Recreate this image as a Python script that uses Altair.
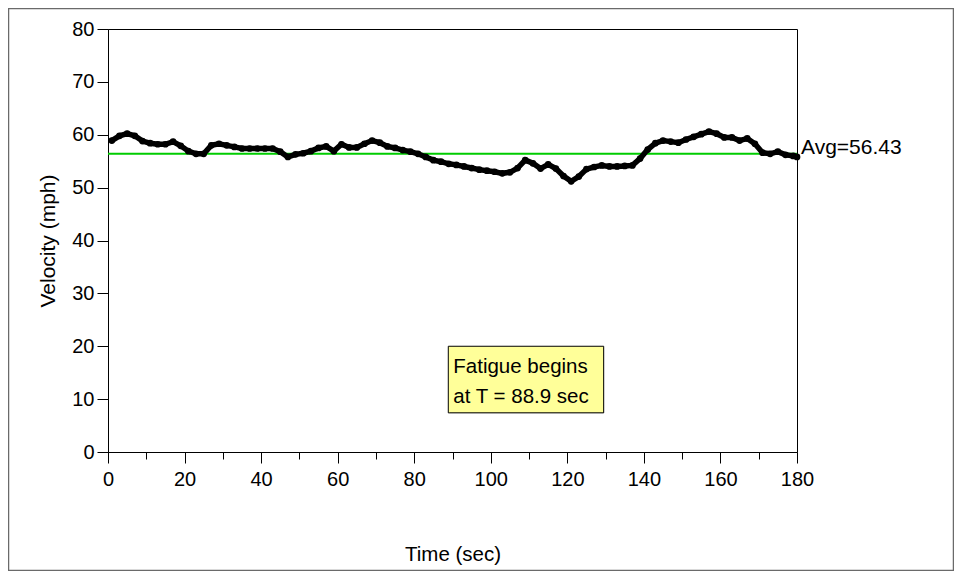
import altair as alt
import pandas as pd

# ---- data ----
times = [1, 3, 5, 7, 9, 11, 13, 15, 17, 19, 21, 23, 25, 27, 29, 31, 33, 35, 37, 39,
         41, 43, 45, 47, 49, 51, 53, 55, 57, 59, 61, 63, 65, 67, 69, 71, 73, 75, 77, 79,
         81, 83, 85, 87, 89, 91, 93, 95, 97, 99, 101, 103, 105, 107, 109, 111, 113, 115, 117, 119,
         121, 123, 125, 127, 129, 131, 133, 135, 137, 139, 141, 143, 145, 147, 149, 151, 153, 155, 157, 159,
         161, 163, 165, 167, 169, 171, 173, 175, 177, 179, 180]
velocity = [58.9, 59.8, 60.2, 59.8, 58.8, 58.4, 58.2, 58.2, 58.7, 57.9, 56.9, 56.4, 56.4, 58.0, 58.3, 58.0, 57.7, 57.4, 57.4, 57.4,
            57.4, 57.4, 56.8, 55.8, 56.3, 56.5, 56.9, 57.5, 57.8, 56.9, 58.2, 57.6, 57.6, 58.3, 58.9, 58.5, 57.8, 57.5, 57.1, 56.8,
            56.4, 55.8, 55.2, 54.9, 54.5, 54.3, 54.0, 53.7, 53.4, 53.2, 53.0, 52.7, 52.9, 53.7, 55.2, 54.6, 53.6, 54.4, 53.6, 52.2,
            51.2, 52.1, 53.5, 53.9, 54.2, 54.0, 54.0, 54.1, 54.2, 55.5, 57.2, 58.4, 58.9, 58.7, 58.5, 59.1, 59.6, 60.1, 60.6, 60.2,
            59.5, 59.5, 58.9, 59.3, 58.3, 56.6, 56.4, 56.8, 56.2, 56.0, 55.8]
avg_value = 56.43
x_major = [0, 20, 40, 60, 80, 100, 120, 140, 160, 180]
x_minor = [10, 30, 50, 70, 90, 110, 130, 150, 170]
y_ticks = [0, 10, 20, 30, 40, 50, 60, 70, 80]
note_lines = ["Fatigue begins", "at T = 88.9 sec"]
fatigue_t = 88.9
box_t_end = 129.5
box_v_low = 7.4
box_v_high = 20.0

FONT = "Liberation Sans"

df = pd.DataFrame({"t": times, "v": velocity})
avg_df = pd.DataFrame({"t": [180], "v": [avg_value], "label": [f"Avg={avg_value}"]})
box_df = pd.DataFrame({"t0": [fatigue_t], "t1": [box_t_end], "v0": [box_v_low], "v1": [box_v_high]})
note_df = pd.DataFrame({"t": [fatigue_t], "v": [box_v_high], "label": [note_lines]})
one_df = pd.DataFrame({"k": [0]})

xs = alt.Scale(domain=[0, 180], nice=False, zero=False)
ys = alt.Scale(domain=[0, 80], nice=False)

x_major_axis = alt.Axis(values=x_major, tickSize=11, tickColor="black", domainColor="black",
                        labelPadding=6, labelFontSize=20, labelFont=FONT, labelColor="black",
                        labelFlush=False, grid=False, orient="bottom",
                        title="Time (sec)", titleFont=FONT, titleFontSize=20.5, titleFontWeight="normal",
                        titleColor="black", titleY=108, titleBaseline="alphabetic")
x_minor_axis = alt.Axis(values=x_minor, tickSize=7, tickColor="black", domain=False,
                        labels=False, grid=False, orient="bottom", title="")
y_axis = alt.Axis(values=y_ticks, tickSize=11, tickColor="black", domainColor="black",
                  labelPadding=3, labelFontSize=20, labelFont=FONT, labelColor="black",
                  labelFlush=False, grid=False,
                  title="Velocity (mph)", titleFont=FONT, titleFontSize=21, titleFontWeight="normal",
                  titleColor="black", titleX=-60, titleBaseline="middle")


def Y(field):
    return alt.Y(field, scale=ys, axis=y_axis)


frame = alt.Chart(one_df).mark_rect(fillOpacity=0, stroke="#6a6a6a", strokeWidth=1.5).encode(
    x=alt.value(-99.5), x2=alt.value(845.5), y=alt.value(-20.5), y2=alt.value(541.5))

avg_rule = alt.Chart(avg_df).mark_rule(color="#00cc00", strokeWidth=2).encode(
    y=Y("v:Q"))

minor = alt.Chart(df).mark_point(opacity=0).encode(
    x=alt.X("t:Q", scale=xs, axis=x_minor_axis, title=""),
    y=Y("v:Q"))

line = alt.Chart(df).mark_line(color="black", strokeWidth=5.5).encode(
    x=alt.X("t:Q", scale=xs, axis=x_major_axis),
    y=Y("v:Q"))

dots = alt.Chart(df).mark_circle(color="black", size=45, opacity=1).encode(
    x=alt.X("t:Q", scale=xs, axis=None),
    y=Y("v:Q"))

avg_text = alt.Chart(avg_df).mark_text(align="left", baseline="alphabetic", dx=4,
                                       font=FONT, fontSize=21, color="black").encode(
    x=alt.X("t:Q", scale=xs, axis=None),
    y=Y("v:Q"),
    text="label:N")

shadow = alt.Chart(box_df).mark_rect(color="black", xOffset=1.5, yOffset=1.5).encode(
    x=alt.X("t0:Q", scale=xs, axis=None), x2="t1:Q",
    y=Y("v1:Q"), y2="v0:Q")

box = alt.Chart(box_df).mark_rect(fill="#ffff99", stroke="black", strokeWidth=1).encode(
    x=alt.X("t0:Q", scale=xs, axis=None), x2="t1:Q",
    y=Y("v1:Q"), y2="v0:Q")

note = alt.Chart(note_df).mark_text(align="left", baseline="alphabetic", dx=5, dy=27,
                                    lineHeight=30, font=FONT, fontSize=20.5, color="black").encode(
    x=alt.X("t:Q", scale=xs, axis=None),
    y=Y("v:Q"),
    text="label")

chart = alt.layer(frame, avg_rule, minor, line, dots, avg_text, shadow, box, note).resolve_axis(
    x="independent", y="shared"
).properties(
    width=689, height=423,
    autosize=alt.AutoSizeParams(type="none"),
    padding={"left": 100, "top": 21, "right": 157, "bottom": 119},
    background="white",
).configure_view(stroke="black", strokeWidth=1)

chart.save("out.html", embed_options={"renderer": "svg", "actions": False})
